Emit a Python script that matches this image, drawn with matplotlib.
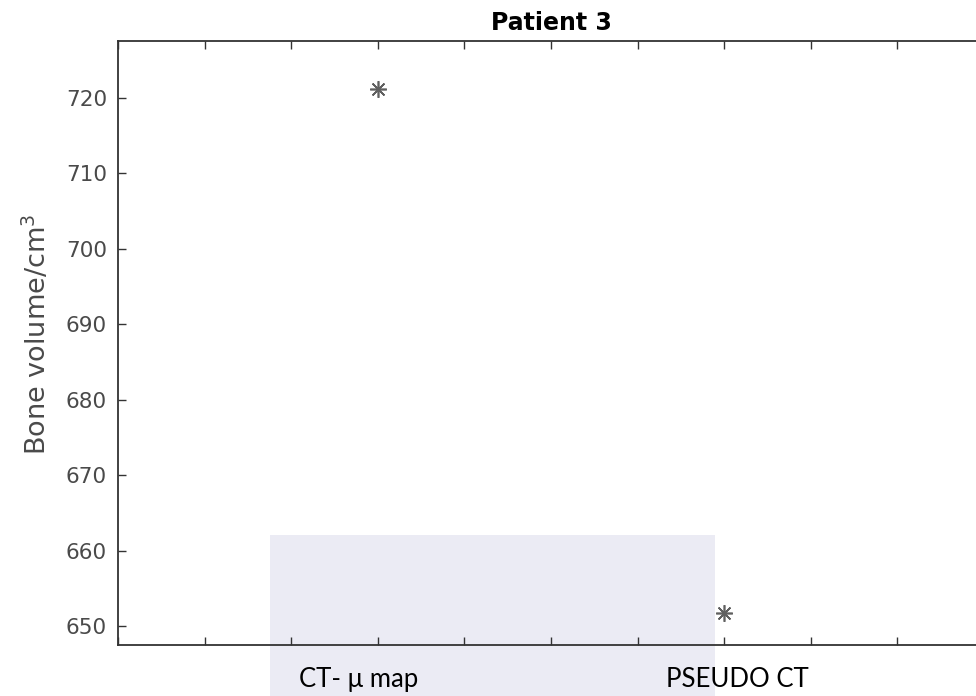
import matplotlib
matplotlib.use("Agg")
import matplotlib.pyplot as plt
from matplotlib.patches import Rectangle
from matplotlib.transforms import ScaledTranslation

# data
groups = ["CT- μ map", "PSEUDO CT"]
group_x = [1, 2]
bone_volume = [721.1, 651.7]

x_ticks = [0.25 * i for i in range(1, 12)]
x_ticklabels = ["", "", "", "CT- μ map", "", "", "", "PSEUDO CT", "", "", ""]
y_ticks = [650, 660, 670, 680, 690, 700, 710, 720]

fig = plt.figure(figsize=(9.76, 6.96), dpi=100)

# faint watermark block behind the lower part of the plot
fig.patches.append(Rectangle((0.277, 0.0), 0.456, 0.231, transform=fig.transFigure,
                             facecolor="#ebebf4", edgecolor="none", zorder=-1))

ax = fig.add_axes([0.1209, 0.0733, 0.8873, 0.8678])
ax.set_facecolor("none")

ax.plot(group_x, bone_volume, linestyle="none", marker=(8, 2, 0),
        markersize=12, markeredgewidth=1.2, color="#606060")

ax.set_xlim(0.25, 2.75)
ax.set_ylim(647.5, 727.5)
ax.set_xticks(x_ticks)
ax.set_xticklabels(x_ticklabels, family=["Lato", "Open Sans", "DejaVu Sans"],
                   fontsize=18.5, color="black")
ax.set_yticks(y_ticks)
ax.set_yticklabels([str(v) for v in y_ticks], fontsize=15.5, color="#4a4a4a")

ax.tick_params(direction="in", top=True, right=True, length=6, width=1,
               color="#333333")
ax.tick_params(axis="x", pad=16)
ax.tick_params(axis="y", pad=8)
for s in ax.spines.values():
    s.set_color("#333333")
    s.set_linewidth(1.3)

# the group labels sit a little off their ticks in the original
shifts = {"CT- μ map": -19, "PSEUDO CT": 13}
for lab in ax.get_xticklabels():
    dx = shifts.get(lab.get_text(), 0)
    if dx:
        lab.set_transform(lab.get_transform() + ScaledTranslation(dx / 100, 0, fig.dpi_scale_trans))

ax.set_title("Patient 3", fontsize=17, fontweight="bold", pad=8)
ax.set_ylabel("Bone volume/cm$^3$", fontsize=19.5, color="#4a4a4a")
ax.yaxis.set_label_coords(-0.076, 0.515)

fig.savefig("out.png", dpi=100)
